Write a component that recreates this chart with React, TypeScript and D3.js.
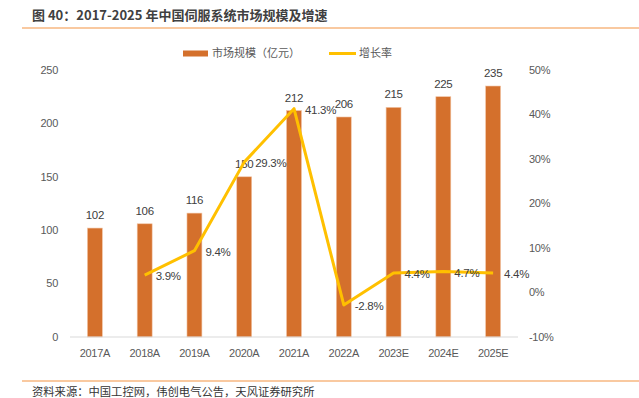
import React from 'react';
import * as d3 from 'd3';

const years = ['2017A', '2018A', '2019A', '2020A', '2021A', '2022A', '2023E', '2024E', '2025E'];
const marketSize = [102, 106, 116, 150, 212, 206, 215, 225, 235];
const growth: (number | null)[] = [null, 3.9, 9.4, 29.3, 41.3, -2.8, 4.4, 4.7, 4.4];
const leftTicks = [0, 50, 100, 150, 200, 250];
const rightTicks = [-10, 0, 10, 20, 30, 40, 50];

const W = 639;
const H = 398;
const margin = { left: 70, right: 121, top: 70, bottom: 61 };

const numFont = "'Liberation Sans', Arial, sans-serif";
const cnFont = "'Noto Sans CJK SC', sans-serif";

const App = () => {
  const x = d3.scaleBand().domain(years).range([margin.left, W - margin.right]).paddingInner(0.7).paddingOuter(0.35);
  const yL = d3.scaleLinear().domain([0, 250]).range([H - margin.bottom, margin.top]);
  const yR = d3.scaleLinear().domain([-10, 50]).range([H - margin.bottom, margin.top]);
  const cx = (d: string) => (x(d) ?? 0) + x.bandwidth() / 2;

  const pts = years.map((y, i) => ({ y, v: growth[i] })).filter(d => d.v !== null) as { y: string; v: number }[];
  const line = d3.line<{ y: string; v: number }>().x(d => cx(d.y)).y(d => yR(d.v));

  const num = { fontFamily: numFont, fontSize: 11, letterSpacing: -0.3 };

  return (
    <svg width={W} height={H} style={{ position: 'absolute', left: 0, top: 0 }}>
      <rect width={W} height={H} fill="#fff" />
      <text x={32} y={20} fontFamily={cnFont} fontSize={13} fontWeight="bold" fill="#404040">
        图 40：2017-2025 年中国伺服系统市场规模及增速
      </text>
      <line x1={22} x2={W} y1={28} y2={28} stroke="#F9C9A0" strokeWidth={2} />

      {/* legend */}
      <rect x={183} y={50.5} width={25} height={6} fill="#D4702C" />
      <text x={212} y={57} fontFamily={cnFont} fontSize={11} fill="#595959">市场规模（亿元）</text>
      <line x1={329} x2={356} y1={53.5} y2={53.5} stroke="#FFC000" strokeWidth={3} />
      <text x={359} y={57} fontFamily={cnFont} fontSize={11} fill="#595959">增长率</text>

      {/* axes */}
      {leftTicks.map(t => (
        <text key={t} x={58} y={yL(t)} dy="0.35em" textAnchor="end" {...num} fill="#595959">{t}</text>
      ))}
      {rightTicks.map(t => (
        <text key={t} x={529} y={yR(t)} dy="0.35em" textAnchor="start" {...num} fill="#595959">{t}%</text>
      ))}

      {years.map((y, i) => (
        <g key={y}>
          <rect x={x(y)} y={yL(marketSize[i])} width={x.bandwidth()} height={yL(0) - yL(marketSize[i])} fill="#D4702C" stroke="#F2C4A4" strokeWidth={0.6} />
          <text x={cx(y)} y={yL(marketSize[i]) - 9} textAnchor="middle" {...num} fontSize={11.5} fill="#404040">{marketSize[i]}</text>
          <text x={cx(y)} y={353} dy="0.35em" textAnchor="middle" {...num} fill="#595959">{y}</text>
        </g>
      ))}
      <line x1={margin.left} x2={W - margin.right} y1={yL(0)} y2={yL(0)} stroke="#D9D9D9" strokeWidth={1} />

      <path d={line(pts) ?? ''} fill="none" stroke="#FFC000" strokeWidth={3} strokeLinejoin="round" />
      {pts.map(d => (
        <text key={d.y} x={cx(d.y) + 11} y={yR(d.v) + 1} dy="0.35em" {...num} fontSize={11.5} fill="#404040">{d.v.toFixed(1)}%</text>
      ))}

      <line x1={22} x2={W} y1={381} y2={381} stroke="#F9C9A0" strokeWidth={2} />
      <text x={32} y={396} fontFamily={cnFont} fontSize={11.3} fill="#333">资料来源：中国工控网，伟创电气公告，天风证券研究所</text>
    </svg>
  );
};

export default App;
